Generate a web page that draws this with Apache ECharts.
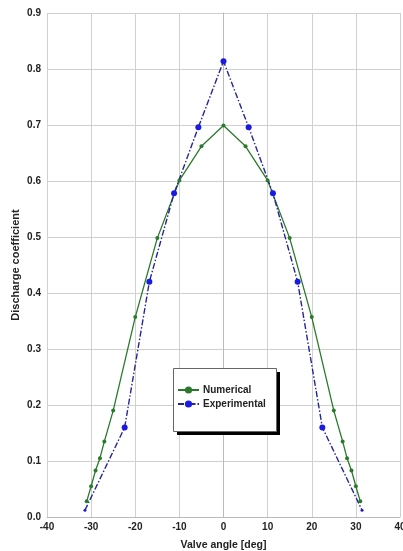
<!DOCTYPE html>
<html><head><meta charset="utf-8">
<script src="https://cdn.jsdelivr.net/npm/echarts@6/dist/echarts.min.js"></script>
<style>html,body{margin:0;padding:0;background:#fff}#c{width:403px;height:551px}</style>
</head><body><div id="c"></div>
<script>
const xTicks = [-40,-30,-20,-10,0,10,20,30,40];
const yTicks = [0,0.1,0.2,0.3,0.4,0.5,0.6,0.7,0.8,0.9];
const numAngle = [-31,-30,-29,-28,-27,-25,-20,-15,-10,-5,0,5,10,15,20,25,27,28,29,30,31];
const numCoef  = [0.028,0.055,0.083,0.105,0.135,0.19,0.357,0.498,0.601,0.662,0.699,0.662,0.601,0.498,0.357,0.19,0.135,0.105,0.083,0.055,0.028];
const expAngle = [-31.4,-22.4,-16.8,-11.2,-5.7,0,5.7,11.2,16.8,22.4,31.4];
const expCoef  = [0.012,0.16,0.42,0.578,0.696,0.814,0.696,0.578,0.42,0.16,0.012];

const chart = echarts.init(document.getElementById('c'));
const lab = {fontFamily:'Liberation Sans, Arial', fontWeight:'bold', fontSize:10, color:'#222'};
chart.setOption({
  animation:false,
  backgroundColor:'#fff',
  grid:{left:47,right:3,top:13,bottom:34,outerBoundsMode:'none',containLabel:false},
  graphic:[
    {type:'rect',left:177,top:372,shape:{width:103,height:63},style:{fill:'#000'},z:5},
    {type:'rect',left:173,top:368,shape:{width:103,height:63},style:{fill:'#fff',stroke:'#666',lineWidth:1},z:6}
  ],
  xAxis:{type:'value',min:-40,max:40,interval:10,
    name:'Valve angle [deg]',nameLocation:'middle',nameGap:23,
    nameTextStyle:Object.assign({},lab,{fontSize:10.5}),
    axisLine:{lineStyle:{color:'#bbb'}},axisTick:{show:false},
    axisLabel:Object.assign({},lab,{margin:5}),
    splitLine:{lineStyle:{color:'#d0d0d0'}}},
  yAxis:{type:'value',min:0,max:0.9,interval:0.1,
    name:'Discharge coefficient',nameLocation:'middle',nameGap:26,nameMoveOverlap:false,
    nameTextStyle:Object.assign({},lab,{fontSize:11}),
    axisLine:{show:true,lineStyle:{color:'#bbb'}},axisTick:{show:false},
    axisLabel:Object.assign({},lab,{margin:6,formatter:v=>v.toFixed(1)}),
    splitLine:{lineStyle:{color:'#d0d0d0'}}},
  legend:{orient:'vertical',left:173,top:368,z:10,
    padding:[17,10,20,4],itemGap:4,itemWidth:21,itemHeight:9,
    textStyle:Object.assign({},lab,{fontSize:10,padding:[0,0,0,-1]}),
    data:['Numerical','Experimental']},
  series:[
    {name:'Numerical',type:'line',data:numAngle.map((a,i)=>[a,numCoef[i]]),
     color:'#2b7a2b',symbol:'circle',symbolSize:4,
     lineStyle:{width:1.3,color:'#2b7a2b'},itemStyle:{color:'#2b7a2b'}},
    {name:'Experimental',type:'line',
     data:expAngle.map((a,i)=>({value:[a,expCoef[i]],symbolSize:(i===0||i===expAngle.length-1)?3:6})),
     color:'#1a1acc',symbol:'circle',symbolSize:6,
     lineStyle:{width:1.4,color:'#24249a',type:[6,2,1.5,2]},itemStyle:{color:'#1a1ae0'}}
  ]
});
</script></body></html>
